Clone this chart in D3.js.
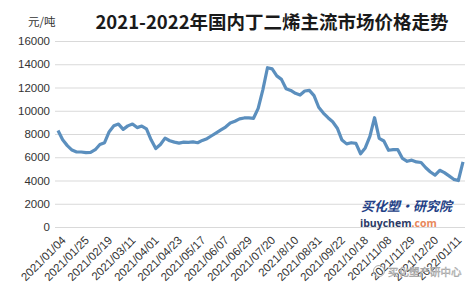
<!DOCTYPE html>
<html>
<head>
<meta charset="utf-8">
<style>
  body { margin: 0; background: #fff; }
  svg { display: block; }
</style>
</head>
<body>
<svg width="474" height="295"></svg>
<script src="https://d3js.org/d3.v7.min.js"></script>
<script>

// tick labels, one every 5th reading
var tickLabels = ["2021/01/04", "2021/01/25", "2021/02/19", "2021/03/11", "2021/04/01",
  "2021/04/23", "2021/05/17", "2021/06/07", "2021/06/29", "2021/07/20", "2021/8/10",
  "2021/08/31", "2021/09/22", "2021/10/18", "2021/11/08", "2021/11/29", "2021/12/20",
  "2022/01/11"];
var tickEvery = 5;

// price, 元/吨 (roughly every 3rd trading day)
var prices = [8300, 7500, 7000, 6620, 6450, 6450, 6400, 6420, 6650, 7100,
  7250, 8200, 8700, 8850, 8400, 8700, 8860, 8550, 8680, 8450,
  7500, 6750, 7100, 7650, 7420, 7300, 7220, 7300, 7280, 7320,
  7250, 7450, 7600, 7850, 8100, 8350, 8600, 8950, 9100, 9300,
  9380, 9380, 9350, 10200, 11800, 13700, 13600, 13000, 12700, 11900,
  11750, 11500, 11350, 11700, 11750, 11300, 10300, 9800, 9400, 9050,
  8500, 7480, 7150, 7250, 7200, 6300, 6800, 7800, 9400, 7620,
  7400, 6600, 6650, 6650, 5900, 5650, 5750, 5600, 5550, 5100,
  4730, 4470, 4880, 4680, 4400, 4100, 4000, 5600];

var yTicks = [0, 2000, 4000, 6000, 8000, 10000, 12000, 14000, 16000];

var svg = d3.select("svg");
var plotL = 55, plotR = 465, plotT = 41, plotB = 227;

var x = d3.scaleLinear().domain([0, prices.length - 1]).range([58, 463]);
var y = d3.scaleLinear().domain([0, 16000]).range([plotB, plotT]);

// gridlines + y labels
var yAxis = svg.append("g")
    .attr("transform", "translate(" + plotL + ",0)")
    .call(d3.axisLeft(y).tickValues(yTicks).tickSize(-(plotR - plotL)).tickPadding(5)
      .tickFormat(d3.format("d")));
yAxis.select(".domain").remove();
yAxis.selectAll("line").attr("stroke", "#d9d9d9");
yAxis.selectAll("text")
    .attr("fill", "#333")
    .style("font", "11.5px 'Liberation Sans', Arial, sans-serif");

// x labels, rotated, right end at the tick
var tickIdx = tickLabels.map(function(d, i) { return i * tickEvery; });
var xAxis = svg.append("g")
    .attr("transform", "translate(0," + plotB + ")")
    .call(d3.axisBottom(x).tickValues(tickIdx).tickSize(0)
      .tickFormat(function(d, i) { return tickLabels[i]; }));
xAxis.select(".domain").remove();
xAxis.selectAll("text")
    .attr("fill", "#333")
    .attr("text-anchor", "end")
    .attr("x", 0).attr("y", 0).attr("dy", null)
    .attr("transform", "translate(8,14) rotate(-45)")
    .style("font", "11.5px 'Liberation Sans', Arial, sans-serif");

// price line
var line = d3.line()
    .x(function(d, i) { return x(i); })
    .y(function(d) { return y(d); });
svg.append("path")
    .datum(prices)
    .attr("fill", "none")
    .attr("stroke", "#5b8fbe")
    .attr("stroke-width", 3.2)
    .attr("stroke-linejoin", "round")
    .attr("d", line);

// title + unit
svg.append("text")
    .attr("x", 272).attr("y", 29)
    .attr("text-anchor", "middle")
    .attr("fill", "#1a1a1a")
    .style("font", "bold 18.5px 'Noto Sans CJK SC', sans-serif")
    .text("2021-2022年国内丁二烯主流市场价格走势");
svg.append("text")
    .attr("x", 28).attr("y", 26)
    .attr("fill", "#333")
    .style("font", "11.5px 'Noto Sans CJK SC', sans-serif")
    .text("元/吨");

// ibuychem mark
svg.append("text")
    .attr("x", 361).attr("y", 211)
    .attr("fill", "#233f86")
    .style("font", "italic bold 13px 'Noto Sans CJK SC', sans-serif")
    .text("买化塑·研究院");
var ib = svg.append("text")
    .attr("x", 360).attr("y", 227)
    .style("font", "bold 10.5px 'Open Sans', sans-serif");
ib.append("tspan").attr("fill", "#2b3a66").text("ibuychem");
ib.append("tspan").attr("fill", "#e8875a").text(".com");

// wechat watermark
svg.append("circle")
    .attr("cx", 379).attr("cy", 271).attr("r", 5.5)
    .attr("fill", "none").attr("stroke", "#aaa").attr("stroke-width", 1);
svg.append("text")
    .attr("x", 388).attr("y", 276)
    .attr("fill", "#fff")
    .attr("stroke", "#999")
    .attr("stroke-width", 0.5)
    .style("font", "10.5px 'Noto Sans CJK SC', sans-serif")
    .text("买化塑产研中心");

</script>
</body>
</html>
